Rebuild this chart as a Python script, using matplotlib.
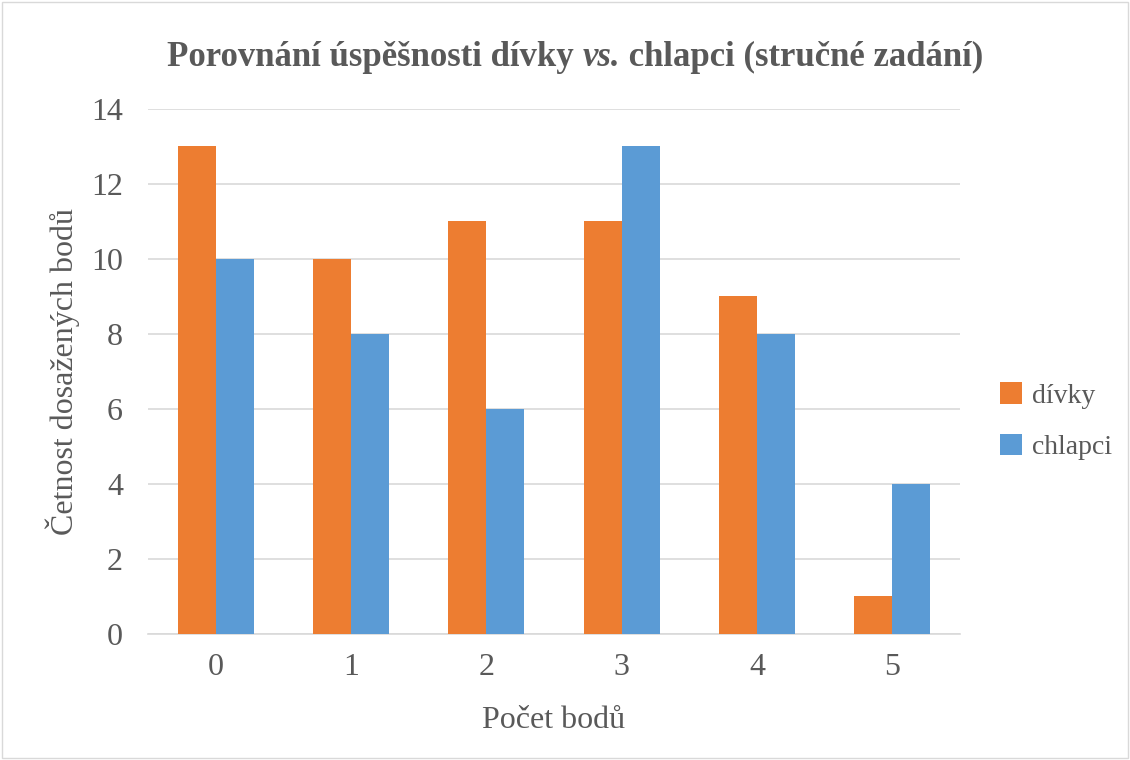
import numpy as np
import matplotlib.pyplot as plt
from matplotlib.patches import Rectangle

# data
kategorie = ['0', '1', '2', '3', '4', '5']
divky = [13, 10, 11, 11, 9, 1]
chlapci = [10, 8, 6, 13, 8, 4]

plt.rcParams['font.family'] = ['Liberation Serif', 'DejaVu Serif']

sedy = '#595959'
fig = plt.figure(figsize=(11.3, 7.6), dpi=100)
ax = fig.add_axes([0.131, 0.1658, 0.7186, 0.6908])

x = np.arange(len(kategorie))
w = 0.28
ax.bar(x - w / 2, divky, w, color='#ED7D31', label='dívky', zorder=3)
ax.bar(x + w / 2, chlapci, w, color='#5B9BD5', label='chlapci', zorder=3)

ax.set_xlim(-0.5, 5.5)
ax.set_ylim(0, 14)
ax.set_yticks(range(0, 15, 2))
ax.set_xticks(x)
ax.set_xticklabels(kategorie)
ax.grid(axis='y', color='#D9D9D9', linewidth=1.2, zorder=0)
for s in ['top', 'right', 'left']:
    ax.spines[s].set_visible(False)
ax.spines['bottom'].set_color('#D9D9D9')
ax.spines['bottom'].set_linewidth(1.2)
ax.tick_params(length=0, labelsize=23, labelcolor=sedy)
ax.tick_params(axis='y', pad=18)
ax.tick_params(axis='x', pad=14)

ax.set_xlabel('Počet bodů', fontsize=23, color=sedy, labelpad=17)
ax.set_ylabel('Četnost dosažených bodů', fontsize=23, color=sedy, labelpad=8)

# titulek ze tri casti (kurziva jen "vs.")
casti = [('Porovnání úspěšnosti dívky ', 'normal'), ('vs.', 'italic'),
         (' chlapci (stručné zadání)', 'normal')]
r = fig.canvas.get_renderer()
texty = []
sirka = 0
for t, st in casti:
    tx = fig.text(0, 0.925, t, fontsize=25, fontweight='bold', style=st,
                  color=sedy, ha='left', va='center')
    texty.append(tx)
    sirka += tx.get_window_extent(r).width
xpos = 575 - sirka / 2
for tx in texty:
    tx.set_x(xpos / fig.bbox.width)
    xpos += tx.get_window_extent(r).width

leg = fig.legend(loc='center left', bbox_to_anchor=(0.885, 0.446), frameon=False,
                 fontsize=20, labelcolor=sedy, handlelength=0.8, handleheight=0.8,
                 labelspacing=0.9, handletextpad=0.35, borderpad=0, borderaxespad=0)

# ramecek kolem grafu
fig.patches.append(Rectangle((0.002, 0.002), 0.996, 0.996, transform=fig.transFigure,
                             fill=False, edgecolor='#D9D9D9', linewidth=1))

plt.savefig('out.png', dpi=100)
